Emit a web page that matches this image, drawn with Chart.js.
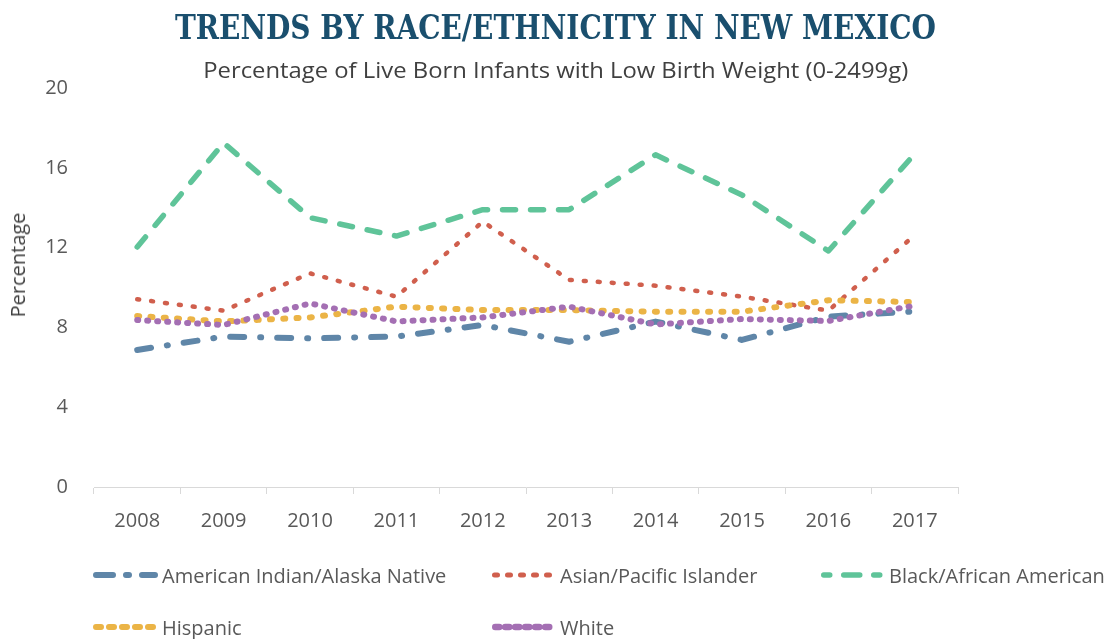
<!DOCTYPE html>
<html>
<head>
<meta charset="utf-8">
<script src="https://cdn.jsdelivr.net/npm/chart.js@4/dist/chart.umd.min.js"></script>
<style>
  html, body { margin: 0; padding: 0; background: #ffffff; }
  #wrap { position: relative; width: 1111px; height: 639px; overflow: hidden; }
  #c { position: absolute; left: 0; top: 0; }
  #title { position: absolute; left: 0; width: 1111px; top: 7px; text-align: center;
           font-family: "DejaVu Serif", serif; font-weight: bold; font-stretch: condensed;
           font-size: 34px; line-height: 40px; color: #1a4f6e; white-space: nowrap; }
  #subtitle { position: absolute; left: 0; width: 1111px; top: 56px; text-align: center;
              font-family: "Open Sans", sans-serif; font-size: 21px; line-height: 28px;
              color: #404040; white-space: nowrap; }
  #title span, #subtitle span { display: inline-block; transform-origin: center center; }
  #ytitle { position: absolute; left: 18px; top: 265px; transform: translate(-50%, -50%) rotate(-90deg);
            font-family: "Open Sans", sans-serif; font-size: 20px; line-height: 24px; color: #404040;
            white-space: nowrap; }
  .leg { position: absolute; height: 24px; display: flex; align-items: center;
         font-family: "Open Sans", sans-serif; font-size: 20px; color: #595959; white-space: nowrap; }
  .leg svg { display: block; }
</style>
</head>
<body>
<div id="wrap">
  <canvas id="c" width="1111" height="639"></canvas>
  <div id="title"><span>TRENDS BY RACE/ETHNICITY IN NEW MEXICO</span></div>
  <div id="subtitle"><span>Percentage of Live Born Infants with Low Birth Weight (0-2499g)</span></div>
  <div id="ytitle">Percentage</div>
  <div id="legend"></div>
</div>
<script>
const years = ['2008', '2009', '2010', '2011', '2012', '2013', '2014', '2015', '2016', '2017'];
const seriesNames = ['American Indian/Alaska Native', 'Asian/Pacific Islander', 'Black/African American', 'Hispanic', 'White'];
const americanIndian = [6.87, 7.54, 7.45, 7.54, 8.12, 7.28, 8.29, 7.37, 8.54, 8.8];
const asianPacific   = [9.41, 8.84, 10.71, 9.54, 13.3, 10.38, 10.09, 9.54, 8.84, 12.63];
const blackAfrican   = [12.03, 17.25, 13.5, 12.58, 13.9, 13.9, 16.65, 14.64, 11.83, 16.7];
const hispanic       = [8.57, 8.3, 8.5, 9.04, 8.87, 8.87, 8.79, 8.79, 9.36, 9.27];
const white          = [8.37, 8.12, 9.2, 8.3, 8.5, 9.04, 8.15, 8.42, 8.32, 9.1];
const yTickValues = [0, 4, 8, 12, 16, 20];

const seriesValues = [americanIndian, asianPacific, blackAfrican, hispanic, white];
const styles = [
  { color: '#5f86a8', width: 6,   dash: [14, 16, 1, 16], legDash: '17 13 3 13', legW: 6 },
  { color: '#d05f4d', width: 4.5, dash: [2, 12],         legDash: '3 10',        legW: 5 },
  { color: '#5fc499', width: 5.5, dash: [13, 15],        legDash: '6 14 16 14',  legW: 5.5 },
  { color: '#ebb446', width: 6,   dash: [2, 11.3],       legDash: '5 8',         legW: 6 },
  { color: '#a46fb3', width: 6,   dash: [1, 9],          legDash: '4 6',         legW: 6.5 }
];

const datasets = seriesNames.map((name, i) => ({
  label: name,
  data: seriesValues[i],
  borderColor: styles[i].color,
  backgroundColor: styles[i].color,
  borderWidth: styles[i].width,
  borderDash: styles[i].dash,
  borderCapStyle: 'round',
  borderJoinStyle: 'round',
  pointRadius: 0,
  pointHoverRadius: 0,
  tension: 0,
  fill: false,
  order: seriesNames.length - 1 - i
}));

new Chart(document.getElementById('c'), {
  type: 'line',
  data: { labels: years, datasets: datasets },
  options: {
    responsive: false,
    animation: false,
    devicePixelRatio: 1,
    layout: { padding: { left: 0, top: 88, right: 153, bottom: 92 } },
    plugins: { legend: { display: false }, title: { display: false }, tooltip: { enabled: false } },
    scales: {
      x: {
        type: 'category',
        offset: true,
        afterFit: (s) => { s.height = 60; },
        grid: { display: true, drawOnChartArea: false, drawTicks: true, tickLength: 7, offset: true, color: '#d9d9d9', lineWidth: 1 },
        border: { display: true, color: '#d9d9d9', width: 1 },
        ticks: { color: '#595959', font: { family: 'Open Sans', size: 20 }, padding: 15, maxRotation: 0, autoSkip: false }
      },
      y: {
        min: 0, max: 20,
        afterFit: (s) => { s.width = 94; },
        afterBuildTicks: (s) => { s.ticks = yTickValues.map(v => ({ value: v })); },
        grid: { display: false, drawTicks: false },
        border: { display: false },
        ticks: { color: '#595959', font: { family: 'Open Sans', size: 20 }, padding: 26 }
      }
    }
  }
});

// Legend built from the datasets
const legendPos = [
  { x: 93, y: 575, tx: 162 }, { x: 492, y: 575, tx: 560 }, { x: 821, y: 575, tx: 889 },
  { x: 93, y: 627, tx: 162 }, { x: 492, y: 627, tx: 560 }
];
const legendEl = document.getElementById('legend');
seriesNames.forEach((name, i) => {
  const p = legendPos[i];
  const st = styles[i];
  const w = p.tx - p.x - 4;
  const d = document.createElement('div');
  d.className = 'leg';
  d.style.left = p.x + 'px';
  d.style.top = (p.y - 12) + 'px';
  const half = st.legW / 2;
  d.innerHTML = '<svg width="' + (w + 4) + '" height="24"><line x1="' + (half) + '" y1="12" x2="' + (w - half) + '" y2="12" stroke="' + st.color +
    '" stroke-width="' + st.legW + '" stroke-linecap="round" stroke-dasharray="' + st.legDash + '"/></svg><span>' + name + '</span>';
  legendEl.appendChild(d);
});

// fit title / subtitle widths to the reference widths
function fitWidth(sel, target) {
  const el = document.querySelector(sel);
  const w = el.getBoundingClientRect().width;
  el.style.transform = 'scaleX(' + (target / w) + ')';
}
fitWidth('#title span', 761);
fitWidth('#subtitle span', 705);
</script>
</body>
</html>
